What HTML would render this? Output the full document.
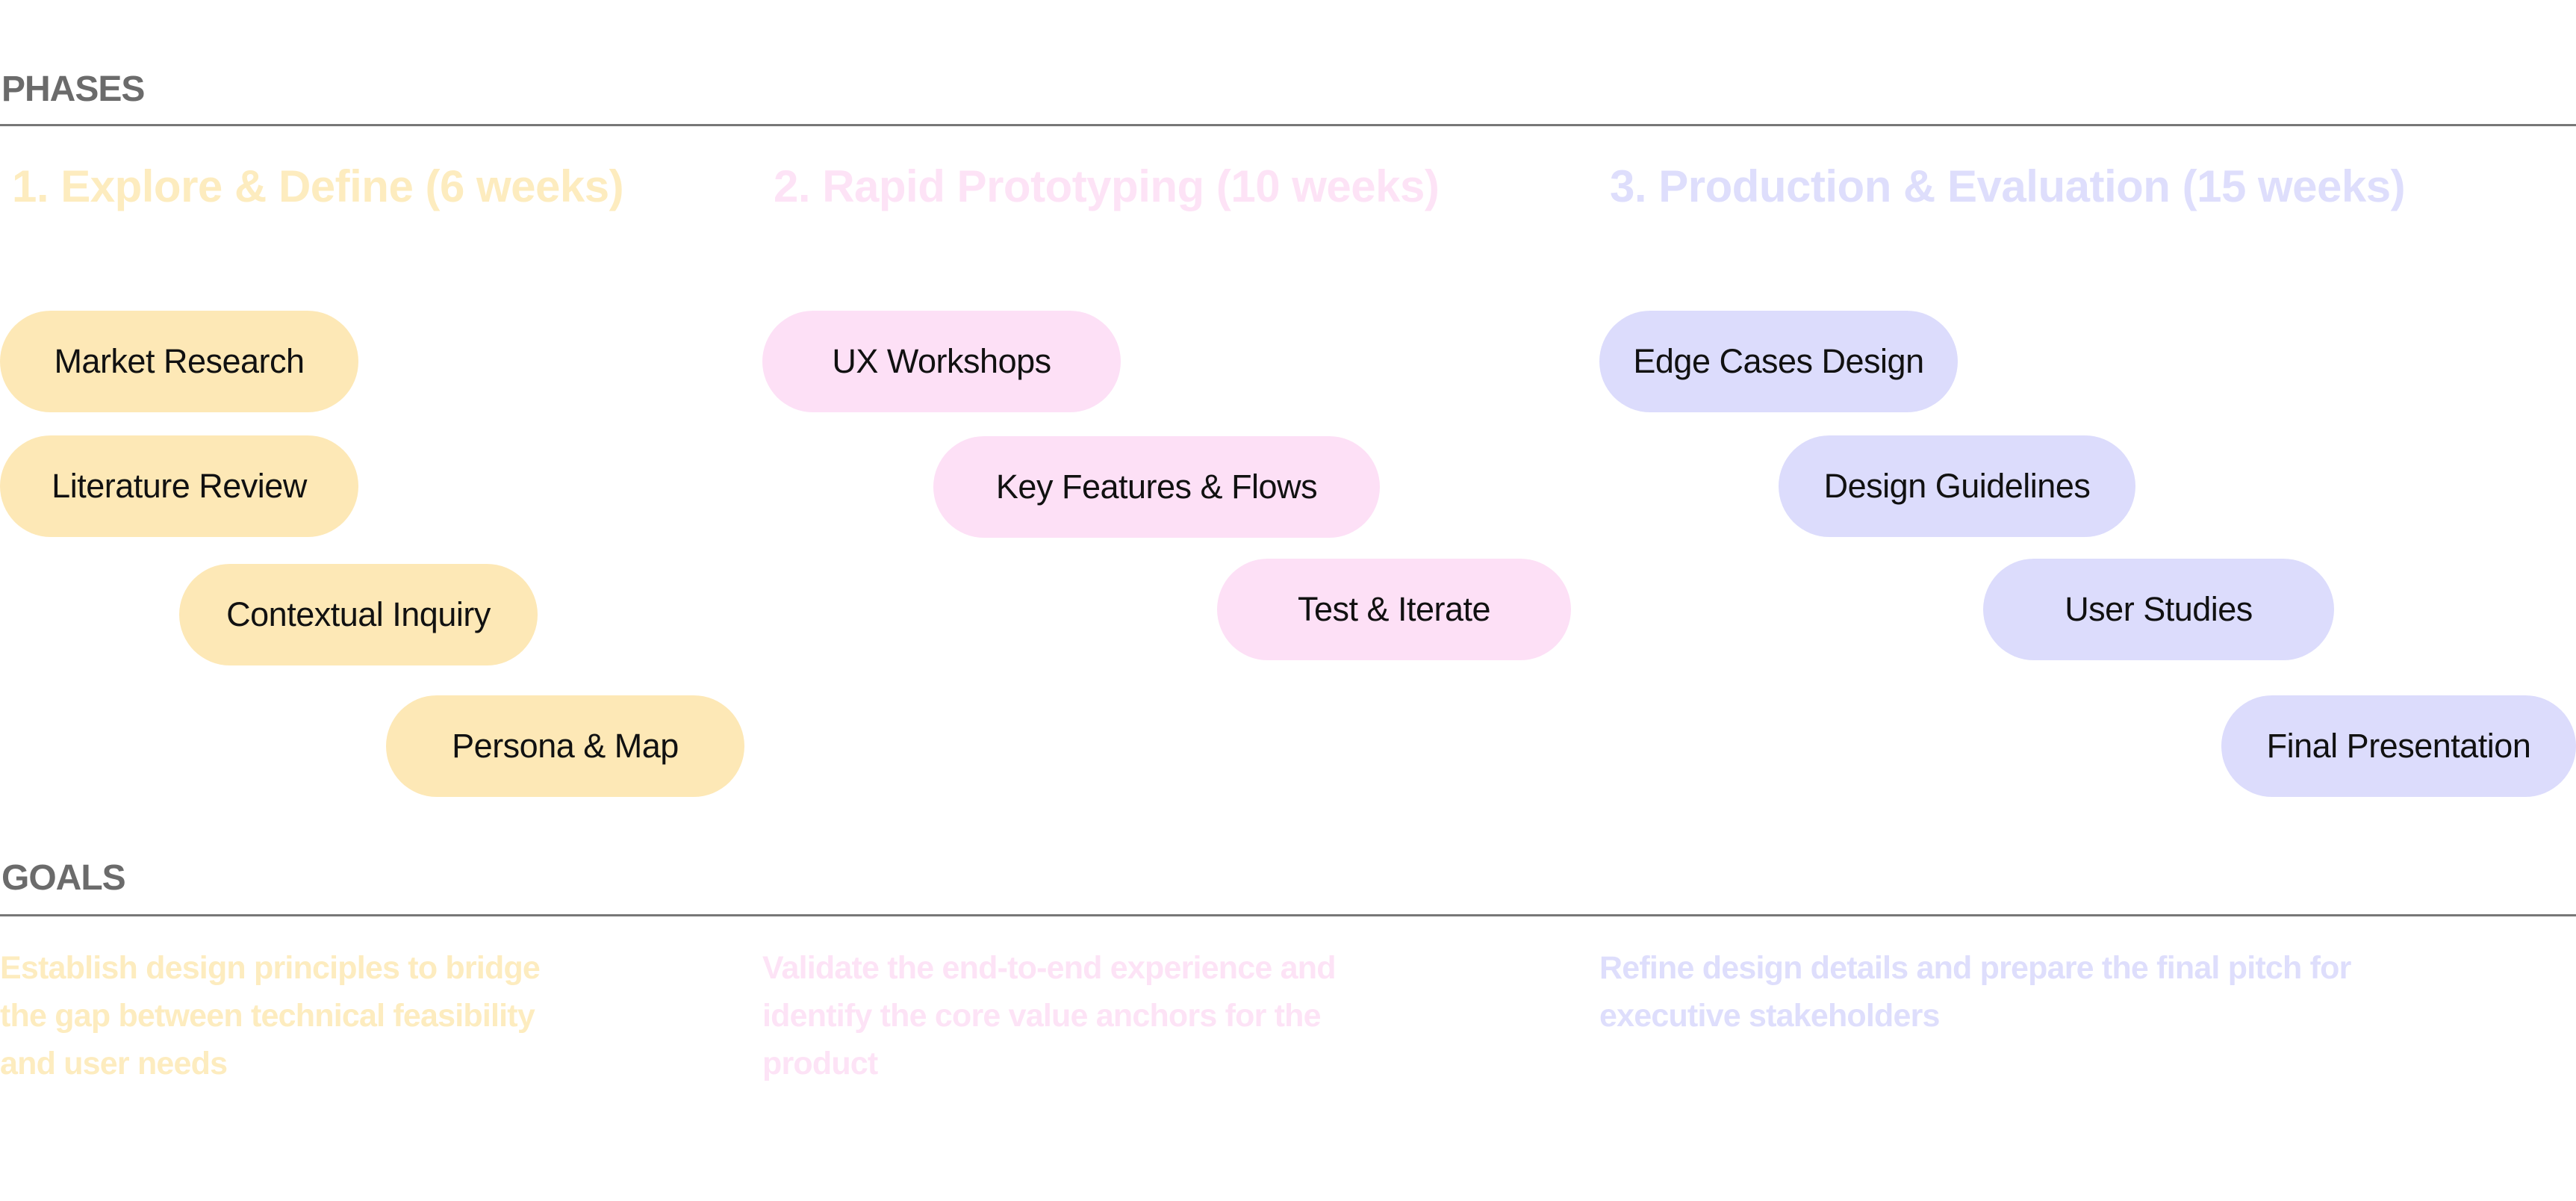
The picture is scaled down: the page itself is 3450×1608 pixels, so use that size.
<!DOCTYPE html>
<html><head><meta charset="utf-8"><style>
html,body{margin:0;padding:0;background:#fff;}
body{width:3450px;height:1608px;position:relative;overflow:hidden;font-family:"Liberation Sans",sans-serif;}
.h{position:absolute;left:2px;font-weight:bold;color:#6b6b6b;font-size:48px;letter-spacing:-1px;line-height:1;}
.rule{position:absolute;left:0;width:3450px;height:3px;background:#777;}
.t{position:absolute;font-weight:bold;font-size:60px;line-height:1;white-space:nowrap;letter-spacing:-0.5px;}
.p{position:absolute;height:136px;border-radius:68px;display:flex;align-items:center;justify-content:center;font-size:45px;color:#111;white-space:nowrap;letter-spacing:-0.5px;}
.y{background:#fde8b6;}.k{background:#fde0f6;}.v{background:#dcdcfc;}
.g{position:absolute;font-weight:bold;font-size:43px;line-height:64px;white-space:nowrap;letter-spacing:-0.8px;}
</style></head><body>
<div class="h" style="top:96px;">PHASES</div>
<div class="rule" style="top:166px;"></div>
<div class="t" style="left:16px;top:220px;color:#fdecbf;">1. Explore &amp; Define (6 weeks)</div>
<div class="t" style="left:1036px;top:220px;color:#fde3f6;">2. Rapid Prototyping (10 weeks)</div>
<div class="t" style="left:2156px;top:220px;color:#dedefc;">3. Production &amp; Evaluation (15 weeks)</div>

<div class="p y" style="left:0;top:416px;width:480px;">Market Research</div>
<div class="p y" style="left:0;top:583px;width:480px;">Literature Review</div>
<div class="p y" style="left:240px;top:755px;width:480px;">Contextual Inquiry</div>
<div class="p y" style="left:517px;top:931px;width:480px;">Persona &amp; Map</div>

<div class="p k" style="left:1021px;top:416px;width:480px;">UX Workshops</div>
<div class="p k" style="left:1250px;top:584px;width:598px;">Key Features &amp; Flows</div>
<div class="p k" style="left:1630px;top:748px;width:474px;">Test &amp; Iterate</div>

<div class="p v" style="left:2142px;top:416px;width:480px;">Edge Cases Design</div>
<div class="p v" style="left:2382px;top:583px;width:478px;">Design Guidelines</div>
<div class="p v" style="left:2656px;top:748px;width:470px;">User Studies</div>
<div class="p v" style="left:2975px;top:931px;width:475px;">Final Presentation</div>

<div class="h" style="top:1152px;">GOALS</div>
<div class="rule" style="top:1224px;"></div>
<div class="g" style="left:0;top:1264px;color:#fdecbf;">Establish design principles to bridge<br>the gap between technical feasibility<br>and user needs</div>
<div class="g" style="left:1021px;top:1264px;color:#fde3f6;">Validate the end-to-end experience and<br>identify the core value anchors for the<br>product</div>
<div class="g" style="left:2142px;top:1264px;color:#dedefc;">Refine design details and prepare the final pitch for<br>executive stakeholders</div>
</body></html>
